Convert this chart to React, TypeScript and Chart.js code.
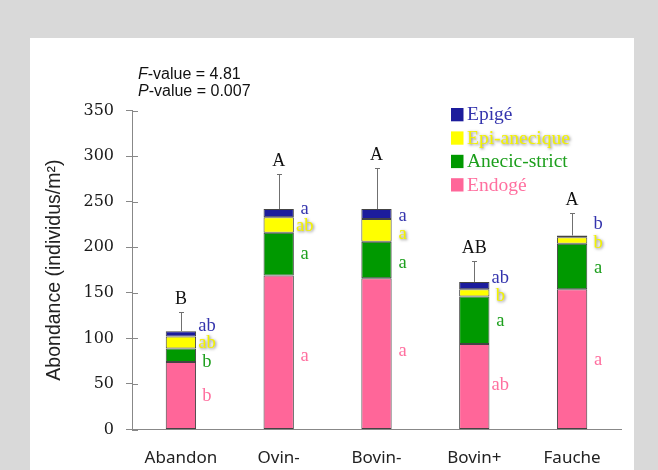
import React, { useEffect, useRef } from 'react';
import { Chart, registerables } from 'chart.js';

Chart.register(...registerables);

const categories = ['Abandon', 'Ovin-', 'Bovin-', 'Bovin+', 'Fauche'];
const endoge = [74, 169, 166, 94, 154];
const anecicStrict = [15, 47, 40, 52, 50];
const epiAnecique = [13, 17, 25, 8, 7];
const epige = [6, 9, 11, 8, 2];
const errorTop = [129, 281, 287, 185, 238];
const yTicks = [0, 50, 100, 150, 200, 250, 300, 350];

const groupLetters = ['B', 'A', 'A', 'AB', 'A'];
const epigeLetters = ['ab', 'a', 'a', 'ab', 'b'];
const epiAnecLetters = ['ab', 'ab', 'a', 'b', 'b'];
const anecLetters = ['b', 'a', 'a', 'a', 'a'];
const endoLetters = ['b', 'a', 'a', 'ab', 'a'];
// value (in axis units) at which each letter is centred
const epigeLetterY = [114, 242, 234, 166, 225];
const epiAnecLetterY = [95, 223, 215, 146, 205];
const anecLetterY = [74, 193, 183, 119, 177];
const endoLetterY = [37, 81, 86, 49, 76];

const statLines = [
  ['F', '-value = 4.81'],
  ['P', '-value = 0.007'],
];

const COL = {
  endo: '#ff6699',
  anec: '#009900',
  epiAnec: '#ffff00',
  epige: '#1c1c9c',
};
const TXT = {
  endo: '#ff6f9f',
  anec: '#1d9f1d',
  epiAnec: '#f2f200',
  epige: '#3434ad',
};

const legendItems = [
  { label: 'Epigé', fill: COL.epige, text: TXT.epige, glow: false },
  { label: 'Epi-anecique', fill: COL.epiAnec, text: TXT.epiAnec, glow: true },
  { label: 'Anecic-strict', fill: COL.anec, text: TXT.anec, glow: false },
  { label: 'Endogé', fill: COL.endo, text: TXT.endo, glow: false },
];

const decorPlugin = {
  id: 'decor',
  beforeDraw(chart: any) {
    const ctx = chart.ctx;
    ctx.save();
    ctx.fillStyle = '#d9d9d9';
    ctx.fillRect(0, 0, chart.width, chart.height);
    ctx.fillStyle = '#ffffff';
    ctx.fillRect(30, 38, 604, chart.height - 38);
    ctx.restore();
  },
  afterDraw(chart: any) {
    const ctx = chart.ctx;
    const x = chart.scales.x;
    const y = chart.scales.y;
    const area = chart.chartArea;
    ctx.save();

    // inner half of y tick marks
    ctx.strokeStyle = '#888888';
    ctx.lineWidth = 1;
    yTicks.forEach((v) => {
      const py = Math.round(y.getPixelForValue(v)) + 0.5;
      ctx.beginPath();
      ctx.moveTo(area.left, py);
      ctx.lineTo(area.left + 6, py);
      ctx.stroke();
    });

    // error bars
    ctx.strokeStyle = '#707070';
    categories.forEach((_, i) => {
      const cx = Math.round(x.getPixelForValue(i)) + 0.5;
      const total = endoge[i] + anecicStrict[i] + epiAnecique[i] + epige[i];
      const pTop = y.getPixelForValue(total);
      const pErr = Math.round(y.getPixelForValue(errorTop[i])) + 0.5;
      ctx.beginPath();
      ctx.moveTo(cx, pTop);
      ctx.lineTo(cx, pErr);
      ctx.moveTo(cx - 2.5, pErr);
      ctx.lineTo(cx + 2.5, pErr);
      ctx.stroke();
    });

    // group letters
    ctx.fillStyle = '#111111';
    ctx.font = '18px "Liberation Serif"';
    ctx.textAlign = 'center';
    ctx.textBaseline = 'alphabetic';
    categories.forEach((_, i) => {
      const cx = x.getPixelForValue(i);
      ctx.fillText(groupLetters[i], cx, y.getPixelForValue(errorTop[i]) - 8);
    });

    // segment letters
    const drawLetters = (letters: string[], vals: number[], color: string, glow: boolean) => {
      ctx.save();
      ctx.font = '18.5px "Liberation Serif"';
      ctx.textAlign = 'center';
      ctx.textBaseline = 'middle';
      ctx.fillStyle = color;
      if (glow) {
        ctx.shadowColor = 'rgba(0,0,0,0.55)';
        ctx.shadowBlur = 3;
        ctx.shadowOffsetX = 1;
        ctx.shadowOffsetY = 1;
      }
      letters.forEach((l, i) => {
        ctx.fillText(l, x.getPixelForValue(i) + 26, y.getPixelForValue(vals[i]));
      });
      ctx.restore();
    };
    drawLetters(epigeLetters, epigeLetterY, TXT.epige, false);
    drawLetters(epiAnecLetters, epiAnecLetterY, TXT.epiAnec, true);
    drawLetters(anecLetters, anecLetterY, TXT.anec, false);
    drawLetters(endoLetters, endoLetterY, TXT.endo, false);

    // legend
    const lx = area.left + 319;
    const ly = 108;
    legendItems.forEach((it, k) => {
      const top = ly + k * 23.4;
      ctx.fillStyle = it.fill;
      ctx.fillRect(lx, top, 12.5, 13.3);
      ctx.save();
      ctx.font = '19.5px "Liberation Serif"';
      ctx.textAlign = 'left';
      ctx.textBaseline = 'alphabetic';
      ctx.fillStyle = it.text;
      if (it.glow) {
        ctx.shadowColor = 'rgba(0,0,0,0.55)';
        ctx.shadowBlur = 3;
        ctx.shadowOffsetX = 1;
        ctx.shadowOffsetY = 1;
      }
      ctx.fillText(it.label, lx + 16, top + 12.3);
      ctx.restore();
    });

    // statistics text
    ctx.fillStyle = '#111111';
    ctx.textAlign = 'left';
    ctx.textBaseline = 'alphabetic';
    statLines.forEach((s, k) => {
      const by = 79 + k * 17;
      ctx.font = 'italic 16px "Liberation Sans"';
      ctx.fillText(s[0], 138, by);
      const w = ctx.measureText(s[0]).width;
      ctx.font = '16px "Liberation Sans"';
      ctx.fillText(s[1], 138 + w, by);
    });

    ctx.restore();
  },
};

export default function App() {
  const ref = useRef<HTMLCanvasElement | null>(null);

  useEffect(() => {
    if (!ref.current) return;
    const ds = (label: string, data: number[], color: string) => ({
      label,
      data,
      backgroundColor: color,
      borderColor: '#444444',
      borderWidth: 1,
      borderSkipped: false,
      barPercentage: 0.31,
      categoryPercentage: 1,
    });
    const chart = new Chart(ref.current, {
      type: 'bar',
      data: {
        labels: categories,
        datasets: [
          ds('Endogé', endoge, COL.endo),
          ds('Anecic-strict', anecicStrict, COL.anec),
          ds('Epi-anecique', epiAnecique, COL.epiAnec),
          ds('Epigé', epige, COL.epige),
        ],
      },
      options: {
        responsive: false,
        animation: false,
        layout: { padding: { top: 110.7, right: 37, left: 0, bottom: 0 } },
        plugins: {
          legend: { display: false },
          tooltip: { enabled: false },
        },
        scales: {
          x: {
            stacked: true,
            grid: { display: false, drawTicks: false },
            border: { color: '#888888' },
            ticks: {
              font: { family: 'Noto Sans', size: 17 },
              color: '#222222',
              padding: 18,
              maxRotation: 0,
            },
            afterFit: (s: any) => {
              s.height = 40.5;
            },
          },
          y: {
            stacked: true,
            min: 0,
            max: 350,
            afterBuildTicks: (s: any) => {
              s.ticks = yTicks.map((v) => ({ value: v }));
            },
            ticks: {
              font: { family: 'DejaVu Serif', size: 16 },
              color: '#1a1a1a',
              padding: 12,
            },
            grid: { drawOnChartArea: false, tickLength: 6, color: '#888888' },
            border: { color: '#888888' },
            title: {
              display: true,
              text: 'Abondance (individus/m²)',
              font: { family: 'Liberation Sans', size: 19.5 },
              color: '#222222',
              padding: { top: 43.3, bottom: 0 },
            },
            afterFit: (s: any) => {
              s.width = 132;
            },
          },
        },
      },
      plugins: [decorPlugin],
    });
    return () => chart.destroy();
  }, []);

  return (
    <div style={{ position: 'fixed', left: 0, top: 0, width: 658, height: 470 }}>
      <canvas ref={ref} width={658} height={470} style={{ display: 'block' }} />
    </div>
  );
}
